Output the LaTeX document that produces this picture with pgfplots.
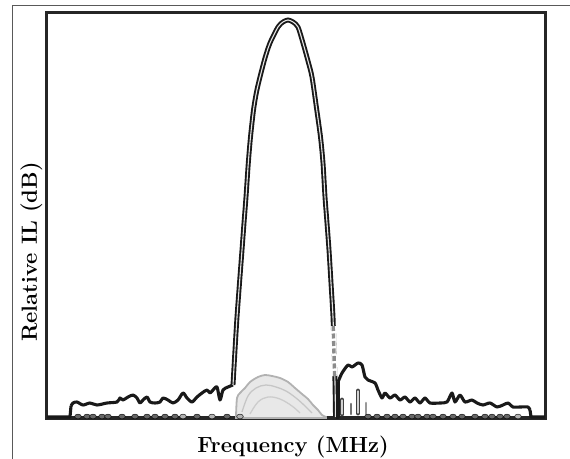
\documentclass[border=0pt]{standalone}
\usepackage{fontspec}
\usepackage{pgfplots}
\pgfplotsset{compat=1.18}
\begin{document}
\begin{tikzpicture}
\begin{axis}[
  scale only axis,
  width=498bp, height=405bp,
  xmin=47, xmax=545, ymin=0, ymax=405,
  ticks=none,
  clip=false,
  axis line style={line width=3bp, black!85},
  xlabel={\fontsize{22}{25}\selectfont\bfseries Frequency (MHz)},
  ylabel={\fontsize{22}{25}\selectfont\bfseries Relative IL (dB)},
  xlabel style={at={(axis description cs:0.494,-0.084)}, anchor=base},
  ylabel style={at={(axis description cs:-0.0201,0.41)}, anchor=base},
]
% outer frame of the figure
\draw[black!65, line width=1bp] (axis cs:13,-41) -- (axis cs:13,412) -- (axis cs:570,412);
\coordinate (bl) at (axis cs:0,-41);
\coordinate (tr) at (axis cs:570,418);

% gray scattered cloud under the main lobe
\addplot[fill=gray!18, draw=gray!60, line width=1.8bp, smooth, tension=0.5] coordinates {
 (236,2) (237,20) (240,25) (245,30) (250,36) (258,41) (265,43) (272,42) (280,40)
 (288,36) (295,30) (302,24) (308,19) (313,13) (318,8) (322,3) (326,1)} \closedcycle;
\addplot[draw=gray!45, line width=1.3bp, smooth, tension=0.6] coordinates {
 (242,6) (248,22) (256,30) (266,33) (276,31) (286,27) (296,20) (305,12) (312,5)};
\addplot[draw=gray!40, line width=1.3bp, smooth, tension=0.6] coordinates {
 (250,4) (258,16) (268,21) (280,19) (292,12) (300,5)};

% dotted trace along the baseline
\addplot[only marks, mark=*, mark size=2.4bp, mark options={xscale=1.4, draw=none, fill=black!60}] coordinates {
 (78,1.5) (87,1.5) (93,1.5) (102,1.5) (108,1.5) (122,1.5) (135,1.5) (147,1.5) (155,1.5)
 (165,1.5) (175,1.5) (197,1.5) (227,1.5)};
\addplot[only marks, mark=*, mark size=2.4bp, mark options={xscale=1.4, draw=none, fill=black!30}] coordinates {
 (183,1.5) (212,1.5) (240,1.5)};
\addplot[only marks, mark=*, mark size=2.4bp, mark options={xscale=1.4, draw=none, fill=black!60}] coordinates {
 (368,1.5) (377,1.5) (387,1.5) (395,1.5) (403,1.5) (412,1.5) (418,1.5) (427,1.5)
 (433,1.5) (443,1.5) (453,1.5) (462,1.5) (475,1.5) (485,1.5) (492,1.5) (500,1.5) (507,1.5)};
\addplot[only marks, mark=*, mark size=2.4bp, mark options={xscale=1.4, draw=none, fill=black!30}] coordinates {
 (518,1.5)};
% tall ovals inside the right sidelobe
\addplot[black!75, line width=1.8bp, double=gray!35, double distance=1.2bp, line cap=round] coordinates {(342,4) (342,18)};
\addplot[black!75, line width=1.8bp, double=gray!35, double distance=1.2bp, line cap=round] coordinates {(358,5) (358,27)};
\addplot[black!55, line width=2.6bp, line cap=round] coordinates {(351,4) (351,14)};
\addplot[black!40, line width=2.6bp, line cap=round] coordinates {(366,4) (366,15)};

% left noise floor
\addplot[black!90, line width=3.1bp, line join=round] coordinates {(47,1) (70,1) (71,12)};
\addplot[black!90, line width=3.1bp, line join=round, smooth, tension=0.45] coordinates {
 (71,12) (73,15) (77,16) (83,13) (90,15) (97,13) (107,15) (117,16) (120,20)
 (123,18) (128,21) (133,23) (137,20) (140,15) (143,18) (147,21) (150,16) (155,15)
 (160,16) (163,20) (168,18) (173,15) (178,18) (183,25) (187,20) (192,16) (197,21)
 (202,25) (207,28) (210,25) (213,28) (217,31) (220,18) (223,28) (228,31) (233,33)};

% main lobe
\addplot[black!90, smooth, tension=0.45, line width=1.9bp, double=gray!20, double distance=1.1bp] coordinates {
 (233,33) (235,68) (237,101) (239.5,135) (242,168) (244,195) (246,221) (248.3,255) (250.5,281)
 (253.5,308) (256.5,326) (260,341) (265,360) (270,375) (278,391) (283,396) (288,398)
 (293,396) (298,391) (303,375) (308,357) (312,341) (316.5,310) (320.5,281) (323,255) (325,221)
 (327,195) (329,168) (331,135) (333,101) (334,68) (335,35) (335.5,1)};
% lighter dashed part of the right flank
\addplot[white, line width=5.5bp] coordinates {(333.2,92) (334.6,42)};
\addplot[black!45, line width=3.4bp, dash pattern=on 5bp off 2.5bp] coordinates {(333.2,92) (334.6,42)};

% right sidelobe and noise floor
\addplot[black!90, line width=3.1bp, line join=round] coordinates {(335.5,1) (338,1) (338,36)};
\addplot[black!90, line width=3.1bp, line join=round, smooth, tension=0.4] coordinates {
 (338,36) (342,45) (348,53) (352,51) (358,55) (362,53) (365,41)
 (368,38) (375,35) (378,28) (382,20) (385,25) (390,20) (395,23) (400,18) (405,21)
 (410,16) (415,20) (420,15) (425,20) (430,15) (440,15) (447,16) (452,25) (455,16)
 (460,23) (465,16) (472,18) (477,15) (483,13) (490,15) (497,11) (503,13) (508,15)
 (513,11) (520,11) (528,11) (530,8)};
\addplot[black!90, line width=3.1bp, line join=round] coordinates {(530,8) (531,1) (545,1)};
\end{axis}
\pgfresetboundingbox
\useasboundingbox (bl) rectangle (tr);
\end{tikzpicture}
\end{document}
